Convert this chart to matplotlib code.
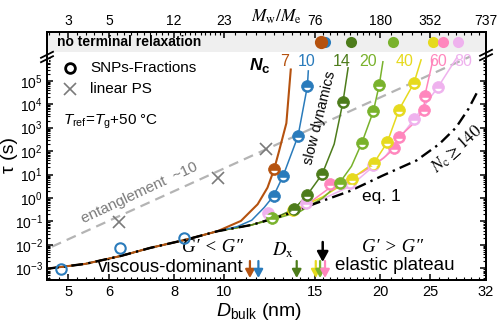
import numpy as np
import matplotlib
matplotlib.use('Agg')
import matplotlib.pyplot as plt
import matplotlib.ticker as mticker
import matplotlib.transforms as mtransforms
from matplotlib.path import Path
from matplotlib.patches import Rectangle

plt.rcParams['font.family'] = ['Liberation Sans', 'DejaVu Sans']
plt.rcParams['mathtext.fontset'] = 'custom'
plt.rcParams['mathtext.rm'] = 'Liberation Sans'
plt.rcParams['mathtext.it'] = 'Liberation Sans:italic'
plt.rcParams['mathtext.bf'] = 'Liberation Sans:bold'
plt.rcParams['axes.unicode_minus'] = False

# ---------------- data ----------------
x_ticks = [5, 6, 8, 10, 15, 20, 25, 32]
x_ticklabels = ['5', '6', '8', '10', '15', '20', '25', '32']
top_ticklabels = ['3', '5', '12', '23', '76', '180', '352', '737']
y_exponents = [-3, -2, -1, 0, 1, 2, 3, 4, 5]

# eq. 1 (N_c >= 140) curve
eq1_D = [4.55, 5.4, 6.3, 7.2, 8.4, 9.7, 11.3, 13.0, 15.1, 17.5, 20.2, 23.5, 26.0, 28.0, 29.6, 31.0]
eq1_log10tau = [-3.02, -2.81, -2.48, -2.13, -1.79, -1.42, -1.15, -0.75, -0.21, 0.30, 0.95, 1.6, 2.3, 3.0, 3.8, 4.65]

# entanglement ~10 guide (two ends)
ent_D = [4.65, 29.8]
ent_log10tau = [-2.08, 6.03]

# linear PS
ps_D = [6.27, 9.74, 12.04]
ps_log10tau = [-1.01, 0.84, 2.08]

# SNP fractions, small sizes (open circles)
snp_open_D = [4.84, 6.28, 8.37]
snp_open_log10tau = [-3.04, -2.15, -1.72]

Nc_labels = ['7', '10', '14', '20', '40', '60', '80']
Nc_colors = ['#b5520f', '#2a7bbb', '#4d7c1b', '#79b22c', '#e6da1e', '#ff86bd', '#efb2ee']

# fitted curves (departure part; below first D they follow eq. 1)
line7_D = [10.1, 10.77, 11.6, 12.12, 12.48, 12.76, 13.18, 13.44]
line7_log10tau = [-1.25, -0.98, -0.27, 0.44, 1.22, 2.0, 3.19, 5.48]
line10_D = [10.6, 11.3, 11.94, 12.45, 12.99, 13.88, 14.47, 14.53]
line10_log10tau = [-1.22, -0.95, -0.41, 0.085, 0.94, 2.64, 4.77, 5.42]
line14_D = [12.3, 12.9, 13.63, 14.46, 15.45, 16.3, 16.95, 17.34]
line14_log10tau = [-0.9, -0.72, -0.48, 0.13, 1.01, 2.3, 4.10, 5.55]
line20_D = [12.5, 14.0, 15.5, 16.70, 17.6, 18.43, 19.4, 19.92, 20.24]
line20_log10tau = [-0.9, -0.58, 0.0, 0.65, 1.35, 2.35, 3.70, 4.84, 5.81]
line40_D = [13.0, 13.55, 15.5, 17.63, 19.45, 20.63, 21.75, 23.24, 23.98]
line40_log10tau = [-0.75, -0.55, 0.05, 0.83, 1.49, 2.37, 3.77, 4.91, 5.89]
line60_D = [14.0, 16.02, 18.5, 20.3, 21.28, 21.75, 23.0, 24.3, 24.37, 25.28]
line60_log10tau = [-0.5, 0.45, 1.1, 1.7, 2.11, 2.60, 3.1, 3.77, 4.34, 5.89]
line80_D = [11.3, 14.35, 17.5, 20.5, 23.24, 25.84, 28.1]
line80_log10tau = [-1.15, -0.38, 0.5, 1.8, 3.35, 4.72, 5.98]

pts7_D, pts7_log10tau = [12.48], [1.22]
pts10_D, pts10_log10tau = [12.45, 12.99, 13.88, 14.47], [0.085, 0.94, 2.64, 4.77]
pts14_D, pts14_log10tau = [13.63, 14.46, 15.45, 16.95], [-0.48, 0.13, 1.01, 4.10]
pts20_D, pts20_log10tau = [12.39, 16.70, 18.43, 19.4, 19.92], [-0.84, 0.65, 2.35, 3.70, 4.84]
pts40_D, pts40_log10tau = [13.55, 17.63, 19.45, 20.63, 21.75, 23.24], [-0.51, 0.83, 1.49, 2.37, 3.77, 4.91]
pts60_D, pts60_log10tau = [16.02, 21.28, 21.75, 24.3, 24.37], [0.60, 2.11, 2.60, 3.77, 4.34]
pts80_D, pts80_log10tau = [12.15, 14.35, 17.5, 19.4, 23.24, 25.84], [-0.63, -0.20, 0.64, 1.41, 3.35, 4.72]

# no terminal relaxation (order: 10, 7, 14, 20, 40, 60, 80)
ntr_D = [15.65, 15.36, 17.54, 21.2, 25.3, 26.4, 28.2]
ntr_idx = [1, 0, 2, 3, 4, 5, 6]

# D_x arrows
dx_D = [11.21, 11.64, 13.80, 15.02, 15.31, 15.65]
dx_idx = [0, 1, 2, 4, 3, 5]
dx_black_D = 15.49

lines = [(line7_D, line7_log10tau), (line10_D, line10_log10tau), (line14_D, line14_log10tau),
         (line20_D, line20_log10tau), (line40_D, line40_log10tau), (line60_D, line60_log10tau),
         (line80_D, line80_log10tau)]
pts = [(pts7_D, pts7_log10tau), (pts10_D, pts10_log10tau), (pts14_D, pts14_log10tau),
       (pts20_D, pts20_log10tau), (pts40_D, pts40_log10tau), (pts60_D, pts60_log10tau),
       (pts80_D, pts80_log10tau)]

# ---------------- figure ----------------
W, H = 500, 326
L, R, B, T = 47, 486, 280, 32
fig = plt.figure(figsize=(W / 100, H / 100), dpi=100)
ax = fig.add_axes([L / W, 1 - B / H, (R - L) / W, (B - T) / H])
ax.set_xscale('log')
ax.set_yscale('log')
ax.set_xlim(4.55, 32)
ax.set_ylim(10 ** -3.5, 10 ** 7.08)

def fx(px):
    return (px - L) / (R - L)

def fy(py):
    return (B - py) / (B - T)

blend = mtransforms.blended_transform_factory(ax.transData, ax.transAxes)

# gray band
ax.add_patch(Rectangle((0, fy(52)), 1, 1 - fy(52), transform=ax.transAxes,
                       facecolor='#efefef', edgecolor='none', zorder=0))
ax.text(fx(57), fy(42), 'no terminal relaxation', transform=ax.transAxes,
        fontsize=10, fontweight='bold', ha='left', va='center')

# entanglement guide
ax.plot(ent_D, 10 ** np.array(ent_log10tau), color='#b4b4b4', lw=1.6,
        dashes=(4.5, 2.8), zorder=1)

def with_base(D, lt):
    bD = [d for d in eq1_D if d < D[0]]
    bl = [l for d, l in zip(eq1_D, eq1_log10tau) if d < D[0]]
    return np.array(bD + list(D)), np.array(bl + list(lt))

for i in [6, 5, 4, 3, 2, 1, 0]:
    d, l = with_base(*lines[i])
    ax.plot(d, 10 ** l, color=Nc_colors[i], lw=1.5 if i == 0 else 1.1, zorder=2 + 0.01 * (7 - i))

ax.plot(eq1_D, 10 ** np.array(eq1_log10tau), color='black', lw=1.7,
        linestyle=(0, (5, 2.2, 1, 2.2)), zorder=3)

# linear PS
ax.plot(ps_D, 10 ** np.array(ps_log10tau), 'x', color='#7a7a7a', ms=8, mew=1.2, zorder=4)

# open SNP circles
ax.plot(snp_open_D, 10 ** np.array(snp_open_log10tau), 'o', mfc='none', mec=Nc_colors[1],
        ms=7.5, mew=1.5, zorder=4)

# highlight marker
t = np.linspace(np.pi, 2 * np.pi, 25)
hv = np.column_stack([0.55 * np.cos(t), -0.22 + 0.42 * np.sin(t)])
verts = np.vstack([[[-1, -1], [1, 1]], hv, hv[:1]])
codes = [Path.MOVETO, Path.MOVETO, Path.MOVETO] + [Path.LINETO] * (len(hv) - 1) + [Path.CLOSEPOLY]
hl_marker = Path(verts, codes)

for i in [6, 5, 4, 3, 2, 1, 0]:
    d, l = pts[i]
    ax.plot(d, 10 ** np.array(l), 'o', ms=8.5, mfc=Nc_colors[i], mec=Nc_colors[i], mew=0.5,
            ls='none', zorder=5)
    ax.plot(d, 10 ** np.array(l), marker=hl_marker, ms=8.5, mfc='white', mec='none',
            ls='none', zorder=5.5)

# no-terminal-relaxation dots
for d, i in zip(ntr_D, ntr_idx):
    ax.plot([d], [fy(42)], 'o', transform=blend, ms=9.5 if i == 0 else 8,
            mfc=Nc_colors[i], mec='none', clip_on=False, zorder=6)

# D_x arrows
for d, i in zip(dx_D, dx_idx):
    ax.annotate('', xy=(d, fy(278)), xycoords=blend, xytext=(d, fy(261)), textcoords=blend,
                arrowprops=dict(arrowstyle='-|>,head_length=0.55,head_width=0.3', color=Nc_colors[i],
                                lw=1.6, shrinkA=0, shrinkB=0, mutation_scale=9), zorder=6)
ax.annotate('', xy=(dx_black_D, fy(262)), xycoords=blend, xytext=(dx_black_D, fy(242)), textcoords=blend,
            arrowprops=dict(arrowstyle='-|>,head_length=0.55,head_width=0.3', color='black',
                            lw=1.8, shrinkA=0, shrinkB=0, mutation_scale=11), zorder=6)

# legend
ax.plot([fx(70)], [fy(68)], 'o', transform=ax.transAxes, mfc='none', mec='black', ms=7, mew=2,
        clip_on=False)
ax.text(fx(90), fy(68), 'SNPs-Fractions', transform=ax.transAxes, fontsize=11, va='center')
ax.plot([fx(70)], [fy(89)], 'x', transform=ax.transAxes, color='#7a7a7a', ms=9, mew=1.2,
        clip_on=False)
ax.text(fx(90), fy(89), 'linear PS', transform=ax.transAxes, fontsize=11, va='center')
ax.text(fx(63), fy(122), r'$T_{\rm ref}$=$T_{\rm g}$+50 °C', transform=ax.transAxes,
        fontsize=11, va='center')

# N_c labels
ax.text(fx(256), fy(70), 'N', transform=ax.transAxes, fontsize=12.5, fontweight='bold',
        fontstyle='italic', ha='center', va='baseline')
ax.text(fx(262), fy(73), 'c', transform=ax.transAxes, fontsize=9.5, fontweight='bold',
        ha='left', va='baseline')
for lab, c, px in zip(Nc_labels, Nc_colors, [285, 307, 342, 368, 405, 438, 463]):
    ax.text(fx(px), fy(62), lab, transform=ax.transAxes, fontsize=11.5, color=c,
            ha='center', va='center')

# annotations
ax.text(fx(139), fy(193), 'entanglement  ~10', transform=ax.transAxes, fontsize=11,
        color='#7a7a7a', rotation=25, ha='center', va='center', rotation_mode='anchor')
ax.text(fx(320), fy(118), 'slow dynamics', transform=ax.transAxes, fontsize=10.5,
        rotation=76, ha='center', va='center', rotation_mode='anchor')
ax.text(fx(381), fy(196), 'eq. 1', transform=ax.transAxes, fontsize=12.5, ha='center', va='center')
ax.text(fx(457), fy(149), r'$N_{\rm c}\geq 140$', transform=ax.transAxes, fontsize=12.5,
        math_fontfamily='stix', rotation=42, ha='center', va='center', rotation_mode='anchor')
ax.text(fx(212), fy(248), 'G′ < G″', transform=ax.transAxes, fontsize=13.5,
        family=['Liberation Serif', 'DejaVu Serif'], style='italic', ha='center', va='center')
ax.text(fx(171), fy(268), 'viscous-dominant', transform=ax.transAxes, fontsize=13.5,
        ha='center', va='center')
ax.text(fx(283), fy(250), r'$D_{\rm x}$', transform=ax.transAxes, fontsize=13.5,
        math_fontfamily='stix', ha='center', va='center')
ax.text(fx(392), fy(248), 'G′ > G″', transform=ax.transAxes, fontsize=13.5,
        family=['Liberation Serif', 'DejaVu Serif'], style='italic', ha='center', va='center')
ax.text(fx(395), fy(266), 'elastic plateau', transform=ax.transAxes, fontsize=13.5,
        ha='center', va='center')

# break marks
def brk(xa, ya):
    px, py = 1 / (R - L), 1 / (B - T)
    ax.plot([xa, xa], [ya - 3 * py, ya + 3 * py], color='white', lw=3,
            transform=ax.transAxes, clip_on=False, zorder=10)
    for off in (-2.2, 2.2):
        ax.plot([xa - 6 * px, xa + 6 * px], [ya + (off - 3) * py, ya + (off + 3) * py],
                color='black', lw=1.3, transform=ax.transAxes, clip_on=False, zorder=11)

brk(0, fy(57))
brk(1, fy(55))

# ticks
minor_x = [m for m in np.concatenate([np.arange(4.6, 10, 0.2), np.arange(10, 20, 0.5),
                                      np.arange(20, 32, 1.0)]) if m not in x_ticks]
ax.set_xticks(x_ticks, labels=x_ticklabels)
ax.xaxis.set_minor_locator(mticker.FixedLocator(minor_x))
ax.xaxis.set_minor_formatter(mticker.NullFormatter())
ax.set_yticks([10.0 ** k for k in y_exponents], labels=[r'$10^{%d}$' % k for k in y_exponents])
minor_y = [m * 10.0 ** k for k in range(-4, 6) for m in range(2, 10)
           if 10 ** -3.5 < m * 10.0 ** k < 10 ** 6.0]
ax.yaxis.set_minor_locator(mticker.FixedLocator(minor_y))
ax.yaxis.set_minor_formatter(mticker.NullFormatter())
ax.tick_params(which='both', direction='in', right=True, top=False, labelsize=10.5)
ax.tick_params(axis='y', labelsize=10, pad=3)
ax.tick_params(which='major', length=4.5, width=1.1)
ax.tick_params(which='minor', length=2.5, width=0.8)
for s in ax.spines.values():
    s.set_linewidth(1.4)

ax2 = ax.twiny()
ax2.set_xscale('log')
ax2.set_xlim(ax.get_xlim())
ax2.set_xticks(x_ticks, labels=top_ticklabels)
ax2.xaxis.set_minor_locator(mticker.FixedLocator(minor_x))
ax2.xaxis.set_minor_formatter(mticker.NullFormatter())
ax2.tick_params(which='both', direction='in', labelsize=10, pad=3)
ax2.tick_params(which='major', length=4.5, width=1.1)
ax2.tick_params(which='minor', length=2.5, width=0.8)
for s in ax2.spines.values():
    s.set_linewidth(1.4)

fig.text(276 / W, 1 - 17 / H, r'$M_{\rm w}/M_{\rm e}$', fontsize=12.5, math_fontfamily='stix',
         ha='center', va='center')
fig.text(10 / W, 1 - 155 / H, 'τ (s)', fontsize=14, rotation=90, ha='center', va='center')
fig.text(259 / W, 1 - 311 / H, r'$D_{\rm bulk}$ (nm)', fontsize=14, ha='center', va='center')

fig.savefig('out.png', dpi=100)
